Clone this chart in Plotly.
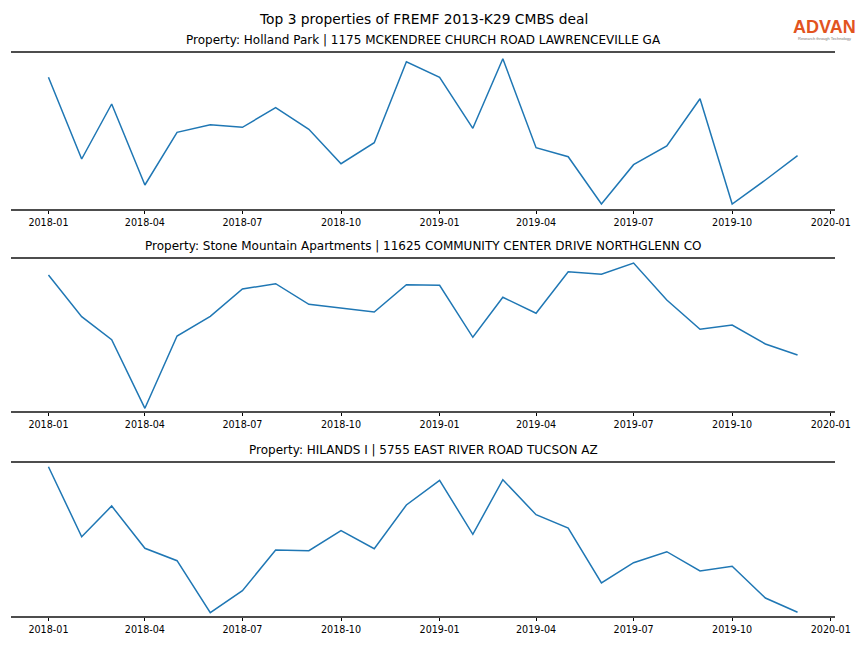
import plotly.graph_objects as go
import pandas as pd

months = pd.date_range("2018-01-01", "2019-12-01", freq="MS")

holland_park = [131.7, 50, 105, 24, 76.7, 84.3, 81.7, 101.3, 79.7, 45.3, 66.3, 147.3,
                131.7, 80.7, 150.3, 61.3, 52.3, 5, 44.3, 63, 110.3, 5, 29, 53.3]
stone_mountain = [136, 94.3, 71.3, 2.7, 75, 94.7, 122, 127.3, 106.7, 103, 99, 126.3,
                  125.7, 73.7, 113.7, 97.7, 139.3, 136.7, 148, 111, 81.7, 86, 67, 56]
hilands = [149.3, 79.3, 110, 67.7, 55.3, 3.3, 25.3, 66, 65.3, 85.3, 67.3, 111,
           135.7, 81.7, 136.3, 101.3, 88, 33, 53.3, 64.3, 45, 49.7, 18, 3.7]

titles = [
    "Property: Holland Park | 1175 MCKENDREE CHURCH ROAD LAWRENCEVILLE GA",
    "Property: Stone Mountain Apartments | 11625 COMMUNITY CENTER DRIVE NORTHGLENN CO",
    "Property: HILANDS I | 5755 EAST RIVER ROAD TUCSON AZ",
]
series = [holland_park, stone_mountain, hilands]
suptitle = "Top 3 properties of FREMF 2013-K29 CMBS deal"

# page body has an 8px margin; figure is placed at (8, 8) in the window
OFF = 8
W, H = 864 - OFF, 648 - OFF
L, R = 11 - OFF, 835 - OFF
PW = R - L
# pixel (top, bottom) of each axes, in window coordinates
boxes = [(53, 209), (259, 411), (463, 616)]
yranges = [[0, 156], [0, 152], [0, 153]]


def py(y):
    return 1 - (y - OFF) / H


def px(x):
    return (x - OFF - L) / PW


FONT = "DejaVu Sans"
fig = go.Figure()
layout = dict(
    width=W, height=H,
    margin=dict(l=L, r=W - R, t=0, b=0, pad=0),
    paper_bgcolor="white", plot_bgcolor="white",
    showlegend=False,
    font=dict(family=FONT, color="black"),
)
annotations = []
for i, (vals, title, (top, bot), yr) in enumerate(zip(series, titles, boxes, yranges)):
    n = "" if i == 0 else str(i + 1)
    fig.add_trace(go.Scatter(x=months, y=vals, mode="lines",
                             line=dict(color="#1f77b4", width=1.5),
                             xaxis="x" + n, yaxis="y" + n))
    layout["xaxis" + n] = dict(
        domain=[0, 1], anchor="y" + n,
        range=["2017-11-27 01:12", "2020-01-04 22:48"],
        tick0="2018-01-01", dtick="M3", tickformat="%Y-%m",
        ticks="outside", ticklen=3.5, tickwidth=0.8, tickcolor="black",
        tickfont=dict(family=FONT, size=9.6, color="black"),
        showline=True, linecolor="#4d4d4d", linewidth=1.7, mirror=True,
        showgrid=False, zeroline=False,
    )
    layout["yaxis" + n] = dict(
        domain=[py(bot), py(top)], anchor="x" + n,
        range=yr, showticklabels=False, ticks="",
        showgrid=False, zeroline=False, showline=False,
    )
    annotations.append(dict(
        text=title, xref="paper", yref="paper", x=0.5, y=py(top - 4),
        xanchor="center", yanchor="bottom", showarrow=False,
        font=dict(family=FONT, size=12, color="black"),
    ))

annotations.append(dict(
    text=suptitle, xref="paper", yref="paper", x=0.5, y=py(19),
    xanchor="center", yanchor="middle", showarrow=False,
    font=dict(family=FONT, size=13.8, color="black"),
))
# logo
annotations.append(dict(
    text="<b>ADVAN</b>", xref="paper", yref="paper", x=px(824), y=py(27),
    xanchor="center", yanchor="middle", showarrow=False,
    font=dict(family="Liberation Sans", size=18, color="#e2541f"),
))
annotations.append(dict(
    text="Research through Technology", xref="paper", yref="paper",
    x=px(824), y=py(38),
    xanchor="center", yanchor="middle", showarrow=False,
    font=dict(family="Liberation Sans", size=4, color="#777777"),
))
layout["annotations"] = annotations
fig.update_layout(**layout)
fig.write_html("out.html")
